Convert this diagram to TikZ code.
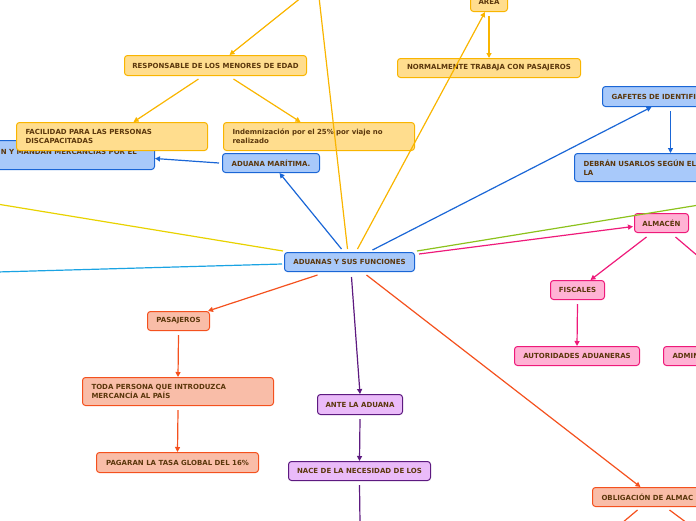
\documentclass[tikz,border=0pt]{standalone}
\usepackage{fontspec}
\setmainfont{DejaVu Sans}
\usetikzlibrary{arrows.meta}
\definecolor{txt}{HTML}{5B370C}
\definecolor{yfill}{HTML}{FFDD8E}
\definecolor{ybord}{HTML}{F9B500}
\definecolor{bfill}{HTML}{A8C9FA}
\definecolor{bbord}{HTML}{1A66D6}
\definecolor{pfill}{HTML}{FFB2D4}
\definecolor{pbord}{HTML}{EE1A7A}
\definecolor{sfill}{HTML}{F9BDA8}
\definecolor{sbord}{HTML}{F4511E}
\definecolor{vfill}{HTML}{EABBF9}
\definecolor{vbord}{HTML}{5D1A80}
\definecolor{yline}{HTML}{E8D200}
\definecolor{cline}{HTML}{1AA3E3}
\definecolor{gline}{HTML}{8CC21C}
\begin{document}
\begin{tikzpicture}[x=1pt,y=-1pt,
  box/.style={draw, rounded corners=3pt, line width=1pt, anchor=north west, inner sep=0pt,
    font=\fontsize{7}{9}\selectfont\bfseries, text=txt, align=center},
  lbox/.style={box, inner xsep=9pt, align=left},
  yb/.style={fill=yfill, draw=ybord},
  bb/.style={fill=bfill, draw=bbord},
  pb/.style={fill=pfill, draw=pbord},
  sb/.style={fill=sfill, draw=sbord},
  vb/.style={fill=vfill, draw=vbord},
  con/.style={line width=1.2pt},
  arr/.style={con, -{Triangle[length=5pt,width=5pt]}},
]
\useasboundingbox (0,0) rectangle (696,520);

% offscreen coordinates
\coordinate (t1) at (302,-3);
\coordinate (t2) at (319,-3);
\coordinate (ly) at (-3,204);
\coordinate (lc) at (-3,272);
\coordinate (rg) at (699,205);
\coordinate (ra) at (699,257);
\coordinate (b1) at (622,523);
\coordinate (b2) at (687,523);
\coordinate (b3) at (360,523);

% left blue box (partly hidden)
\node[box,bb,minimum width=184pt,minimum height=29pt] (mar) at (-30,140) {};
\node[anchor=east, inner sep=0pt, font=\fontsize{7}{9}\selectfont\bfseries, text=txt] (martxt) at (137,151.5) {N Y MANDAN MERCANCÍAS POR EL};

% nodes
\node[box,bb,minimum width=130pt,minimum height=19pt] (c) at (284,252) {ADUANAS Y SUS FUNCIONES};
\node[box,yb,minimum width=182pt,minimum height=20pt] (resp) at (124,55) {RESPONSABLE DE LOS MENORES DE EDAD};
\node[lbox,yb,text width=173pt,minimum height=28pt] (facil) at (16,122) {FACILIDAD PARA LAS PERSONAS\\DISCAPACITADAS};
\node[lbox,yb,text width=173pt,minimum height=28pt] (indem) at (223,122) {Indemnización por el 25\% por viaje no\\realizado};
\node[box,bb,minimum width=97pt,minimum height=19pt] (marit) at (222,153) {ADUANA MARÍTIMA.};
\node[box,yb,minimum width=37pt,minimum height=20pt] (area) at (470,-9) {AREA};
\node[box,yb,minimum width=183pt,minimum height=19pt] (normal) at (397,58) {NORMALMENTE TRABAJA CON PASAJEROS};
\node[lbox,bb,text width=110pt,minimum height=20pt] (gaf) at (602,86) {GAFETES DE IDENTIFI};
\node[lbox,bb,text width=130pt,minimum height=28pt] (debran) at (574,153) {DEBRÁN USARLOS SEGÚN EL\\LA};
\node[box,pb,minimum width=54pt,minimum height=19pt] (alm) at (634,213) {ALMACÉN};
\node[box,pb,minimum width=54pt,minimum height=19pt] (fisc) at (550,280) {FISCALES};
\node[box,pb,minimum width=125pt,minimum height=19pt] (aut) at (514,346) {AUTORIDADES ADUANERAS};
\node[lbox,pb,text width=50pt,minimum height=19pt] (admin) at (663,346) {ADMIN};
\node[box,sb,minimum width=62pt,minimum height=19pt] (pas) at (147,311) {PASAJEROS};
\node[lbox,sb,text width=173pt,minimum height=28pt] (toda) at (82,377) {TODA PERSONA QUE INTRODUZCA\\MERCANCÍA AL PAÍS};
\node[box,sb,minimum width=162pt,minimum height=20pt] (pag) at (96,452) {PAGARAN LA TASA GLOBAL DEL 16\%};
\node[box,vb,minimum width=85pt,minimum height=20pt] (ante) at (317,394) {ANTE LA ADUANA};
\node[box,vb,minimum width=142pt,minimum height=19pt] (nace) at (288,461) {NACE DE LA NECESIDAD DE LOS};
\node[lbox,sb,text width=110pt,minimum height=19pt] (oblig) at (592,487) {OBLIGACIÓN DE ALMAC};

% yellow-orange connectors
\draw[arr,ybord] (t1) -- ([xshift=14pt]resp.north);
\draw[arr,ybord] ([xshift=-17pt,yshift=-3pt]resp.south) -- ([xshift=21.5pt]facil.north);
\draw[arr,ybord] ([xshift=18pt,yshift=-3pt]resp.south) -- ([xshift=-18.5pt]indem.north);
\draw[con,ybord] ([xshift=-2pt,yshift=3pt]c.north) -- (t2);
\draw[arr,ybord] ([xshift=8pt,yshift=3pt]c.north) -- ([xshift=-4pt]area.south);
\draw[arr,ybord] ([yshift=-4pt]area.south) -- (normal.north);

% blue connectors
\draw[arr,bbord] ([xshift=-8pt,yshift=3pt]c.north) -- ([xshift=8.5pt]marit.south);
\draw[arr,bbord] ([xshift=-3pt]marit.west) -- ([yshift=-3.5pt]mar.east);
\draw[arr,bbord] ([xshift=23pt,yshift=2pt]c.north) -- ([xshift=-15pt]gaf.south);
\draw[arr,bbord] ([xshift=4pt,yshift=-4pt]gaf.south) -- ([xshift=22pt]debran.north);

% other lines from centre
\draw[con,yline] (ly) -- ([xshift=-1pt,yshift=1pt]c.north west);
\draw[con,cline] (lc) -- ([xshift=-2pt,yshift=-2pt]c.west);
\draw[con,gline] ([xshift=2pt,yshift=1pt]c.north east) -- (rg);

% pink connectors
\draw[arr,pbord] ([xshift=4pt,yshift=-2pt]c.north east) -- ([xshift=-1pt,yshift=-3.5pt]alm.west);
\draw[arr,pbord] ([xshift=-15pt,yshift=-4pt]alm.south) -- ([xshift=13pt]fisc.north);
\draw[con,pbord] ([xshift=14pt,yshift=-4pt]alm.south) -- (ra);
\draw[arr,pbord] ([yshift=-4pt]fisc.south) -- (aut.north);

% red-orange connectors
\draw[arr,sbord] ([xshift=-32pt,yshift=-3pt]c.south) -- ([xshift=-2pt]pas.north east);
\draw[arr,sbord] ([yshift=-4pt]pas.south) -- (toda.north);
\draw[arr,sbord] ([yshift=-4pt]toda.south) -- (pag.north);
\draw[arr,sbord] ([xshift=17pt,yshift=-3pt]c.south) -- ([xshift=-16pt]oblig.north);
\draw[con,sbord] ([xshift=-19pt,yshift=-3pt]oblig.south) -- (b1);
\draw[con,sbord] ([xshift=13pt,yshift=-3pt]oblig.south) -- (b2);

% purple connectors
\draw[arr,vbord] ([xshift=2pt,yshift=-5pt]c.south) -- (ante.north);
\draw[arr,vbord] ([yshift=-4pt]ante.south) -- (nace.north);
\draw[con,vbord] ([yshift=-4pt]nace.south) -- (b3);
\end{tikzpicture}
\end{document}
